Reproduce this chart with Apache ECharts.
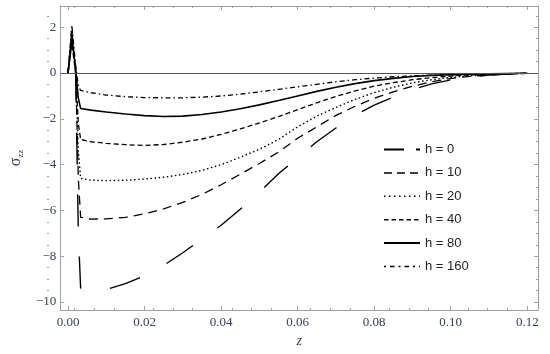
<!DOCTYPE html>
<html>
<head>
<meta charset="utf-8">
<script src="https://cdn.jsdelivr.net/npm/echarts@6/dist/echarts.min.js"></script>
<style>html,body{margin:0;padding:0;background:#fff}#c{width:550px;height:354px}</style>
</head>
<body>
<div id="c"></div>
<script>
// z grid shared by all curves
const zValues = [0, 0.0004, 0.001, 0.002, 0.0027, 0.0033, 0.006, 0.01, 0.015, 0.02, 0.025, 0.03, 0.035, 0.04, 0.045, 0.05, 0.055, 0.06, 0.065, 0.07, 0.075, 0.08, 0.085, 0.09, 0.095, 0.1, 0.105, 0.11, 0.115, 0.12];
const h0   = [0, 0, 1.4, 0, -7.0, -9.4, -9.55, -9.45, -9.2, -8.85, -8.4, -7.85, -7.25, -6.65, -5.95, -5.2, -4.4, -3.7, -3.0, -2.4, -1.85, -1.4, -1.05, -0.72, -0.47, -0.3, -0.17, -0.09, -0.04, -0.01];
const h10  = [0, 0, 1.9, 0, -4.6, -6.3, -6.38, -6.37, -6.3, -6.15, -5.93, -5.65, -5.3, -4.88, -4.42, -3.95, -3.45, -2.85, -2.35, -1.85, -1.45, -1.1, -0.82, -0.58, -0.38, -0.24, -0.14, -0.08, -0.04, -0.01];
const h20  = [0, 0, 1.8, 0, -3.4, -4.6, -4.68, -4.7, -4.68, -4.63, -4.55, -4.43, -4.25, -4.0, -3.68, -3.33, -2.9, -2.35, -1.88, -1.5, -1.15, -0.85, -0.62, -0.43, -0.29, -0.19, -0.12, -0.07, -0.04, -0.01];
const h40  = [0, 0, 1.3, 0, -2.2, -2.9, -3.0, -3.07, -3.13, -3.16, -3.12, -3.02, -2.88, -2.68, -2.44, -2.18, -1.9, -1.6, -1.3, -1.02, -0.78, -0.57, -0.42, -0.29, -0.2, -0.13, -0.08, -0.05, -0.03, -0.01];
const h80  = [0, 0, 1.5, 0.2, -1.1, -1.55, -1.62, -1.7, -1.79, -1.86, -1.9, -1.88, -1.81, -1.7, -1.56, -1.39, -1.2, -1.0, -0.8, -0.62, -0.46, -0.33, -0.23, -0.15, -0.1, -0.07, -0.05, -0.03, -0.02, -0.01];
const h160 = [0, 0, 2.1, 0.3, -0.55, -0.76, -0.86, -0.96, -1.03, -1.07, -1.08, -1.08, -1.05, -1.0, -0.92, -0.82, -0.71, -0.6, -0.49, -0.38, -0.29, -0.22, -0.16, -0.12, -0.09, -0.07, -0.05, -0.03, -0.02, -0.01];
const seriesNames = ['h = 0', 'h = 10', 'h = 20', 'h = 40', 'h = 80', 'h = 160'];

// tick values
const xMajorTicks = [0, 0.02, 0.04, 0.06, 0.08, 0.10, 0.12];
const xMinorTicks = [0.005, 0.01, 0.015, 0.025, 0.03, 0.035, 0.045, 0.05, 0.055, 0.065, 0.07, 0.075, 0.085, 0.09, 0.095, 0.105, 0.11, 0.115];
const yMajorTicks = [-10, -8, -6, -4, -2, 0, 2];
const yMinorTicks = [-9.5, -9, -8.5, -7.5, -7, -6.5, -5.5, -5, -4.5, -3.5, -3, -2.5, -1.5, -1, -0.5, 0.5, 1, 1.5, 2.5];

const X_MIN = -0.00203, X_MAX = 0.1228, Y_MIN = -10.35, Y_MAX = 2.93;
const frameColor = '#a0a0a0';
const labelColor = '#3a4055';

const curveStyles = [
  { type: [32, 30], width: 1.4 },
  { type: [9, 6], width: 1.3 },
  { type: [1.5, 2.6], width: 1.4 },
  { type: [5, 3], width: 1.3 },
  { type: 'solid', width: 1.6 },
  { type: [5, 3, 1.5, 3], width: 1.3 }
];
const legendStyles = [
  { type: [20, 12], width: 1.8 },
  { type: [8, 5], width: 1.5 },
  { type: [1.5, 3.5], width: 1.5 },
  { type: [4.5, 3], width: 1.5 },
  { type: 'solid', width: 2 },
  { type: [2, 4, 4.5, 4], width: 1.5 }
];
const allY = [h0, h10, h20, h40, h80, h160];

function xAxisDef(grid, pos, ticks, len, showLine, showLabel, extra) {
  return Object.assign({
    gridIndex: grid,
    type: 'value', position: pos, min: X_MIN, max: X_MAX,
    axisLine: { show: showLine, onZero: false, lineStyle: { color: frameColor, width: 1 } },
    axisTick: { show: true, inside: true, length: len, customValues: ticks, lineStyle: { color: frameColor, width: 1 } },
    axisLabel: showLabel ? {
      show: true, customValues: ticks, margin: 6, color: labelColor,
      fontFamily: 'Liberation Serif', fontSize: 13,
      formatter: v => v.toFixed(2)
    } : { show: false },
    splitLine: { show: false }
  }, extra || {});
}
function yAxisDef(grid, pos, ticks, len, showLine, showLabel, extra) {
  return Object.assign({
    gridIndex: grid,
    type: 'value', position: pos, min: Y_MIN, max: Y_MAX,
    axisLine: { show: showLine, onZero: false, lineStyle: { color: frameColor, width: 1 } },
    axisTick: { show: true, inside: true, length: len, customValues: ticks, lineStyle: { color: frameColor, width: 1 } },
    axisLabel: showLabel ? {
      show: true, customValues: ticks, margin: 4, color: labelColor,
      fontFamily: 'Liberation Serif', fontSize: 13,
      formatter: v => (v < 0 ? '\u2212' + Math.abs(v) : String(v))
    } : { show: false },
    splitLine: { show: false }
  }, extra || {});
}

const series = seriesNames.map((name, i) => ({
  name: name,
  type: 'line',
  xAxisIndex: 0, yAxisIndex: 0,
  symbol: 'none',
  smooth: false,
  data: zValues.map((z, k) => [z, allY[i][k]]),
  lineStyle: { color: '#000', width: curveStyles[i].width, type: curveStyles[i].type },
  itemStyle: { color: '#000' },
  z: 3
}));
series[0].markLine = {
  silent: true, symbol: 'none', animation: false,
  label: { show: false },
  lineStyle: { color: '#555', width: 1, type: 'solid' },
  data: [{ yAxis: 0 }]
};

const gridBox = { left: 47, right: 12, top: 6, bottom: 44, containLabel: false };
const chart = echarts.init(document.getElementById('c'), null, { renderer: 'canvas' });
chart.setOption({
  animation: false,
  backgroundColor: '#fff',
  grid: [Object.assign({}, gridBox), Object.assign({}, gridBox)],
  xAxis: [
    xAxisDef(0, 'bottom', xMajorTicks, 4, true, true, {
      name: 'z', nameLocation: 'middle', nameGap: 24,
      nameTextStyle: { fontFamily: 'Liberation Serif', fontStyle: 'italic', fontSize: 14, color: labelColor }
    }),
    xAxisDef(0, 'top', xMajorTicks, 4, true, false),
    xAxisDef(1, 'bottom', xMinorTicks, 2, false, false),
    xAxisDef(1, 'top', xMinorTicks, 2, false, false)
  ],
  yAxis: [
    yAxisDef(0, 'left', yMajorTicks, 4, true, true, {
      name: '{s|\u03c3}{sub|zz}', nameLocation: 'middle', nameGap: 30, nameRotate: 90,
      nameTextStyle: {
        color: labelColor,
        rich: {
          s: { fontFamily: 'Liberation Serif', fontSize: 16, color: labelColor, lineHeight: 18 },
          sub: { fontFamily: 'Liberation Serif', fontSize: 9, color: labelColor, lineHeight: 18, verticalAlign: 'bottom', padding: [6, 0, 0, 0] }
        }
      }
    }),
    yAxisDef(0, 'right', yMajorTicks, 4, true, false),
    yAxisDef(1, 'left', yMinorTicks, 2, false, false),
    yAxisDef(1, 'right', yMinorTicks, 2, false, false)
  ],
  legend: {
    orient: 'vertical', left: 378, top: 138,
    itemWidth: 36, itemHeight: 12, itemGap: 10.4,
    textStyle: { fontFamily: 'Liberation Sans', fontSize: 13, color: '#222', lineHeight: 12 },
    data: seriesNames.map((n, i) => ({
      name: n,
      itemStyle: { color: 'rgba(0,0,0,0)', borderWidth: 0, opacity: 0 },
      lineStyle: { color: '#000', width: legendStyles[i].width, type: legendStyles[i].type }
    }))
  },
  series: series
});
</script>
</body>
</html>
